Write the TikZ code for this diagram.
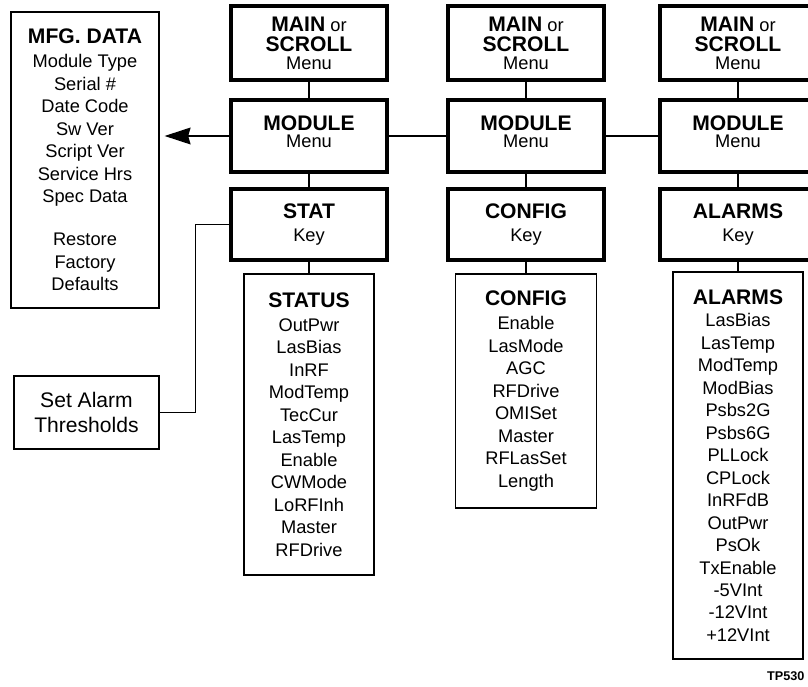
\documentclass[tikz,border=0pt]{standalone}
\usepackage{fontspec}
\setmainfont{Liberation Sans}
\usetikzlibrary{arrows.meta,positioning}
\newcommand{\boxhead}[1]{{\fontsize{15}{16}\selectfont\bfseries #1}}

\begin{document}
\begin{tikzpicture}[
    font=\fontsize{13}{16}\selectfont,
    menubox/.style={rectangle, draw=black, line width=2.2pt, minimum width=3.9cm, inner sep=0pt, align=center, fill=white},
    listbox/.style={rectangle, draw=black, line width=1.1pt, inner sep=0pt, align=center, fill=white},
    link/.style={line width=1.1pt},
    pointer/.style={line width=1.1pt, -{Stealth[length=6.5mm,width=4.2mm,inset=0.6mm]}, shorten >=0.12cm}
]
\useasboundingbox (0,0) rectangle (20.2,17.175);
\clip (0,0) rectangle (20.2,17.175);

% left column
\node[listbox, minimum width=3.7cm, minimum height=7.4cm] (Mfg) at (2.125,13.175) {\boxhead{MFG. DATA}\\[1pt]
Module Type\\Serial \#\\Date Code\\Sw Ver\\Script Ver\\Service Hrs\\Spec Data\\[14.5pt]
Restore\\Factory\\Defaults};
\node[listbox, minimum width=3.625cm, minimum height=1.825cm, font=\fontsize{15}{18}\selectfont] (Alarm) at (2.1625,6.8625) {Set Alarm\\Thresholds};

% STAT column
\node[menubox, minimum height=1.85cm] (Main1) at (7.725,16.1) {\boxhead{MAIN} or\\[-1.8pt]\boxhead{SCROLL}\\[-3pt]Menu};
\node[menubox, minimum height=1.8cm, text depth=0.22cm] (Module1) at (7.725,13.775) {\boxhead{MODULE}\\[-3.5pt]Menu};
\node[menubox, minimum height=1.775cm] (Stat) at (7.725,11.5625) {\boxhead{STAT}\\[0.5pt]Key};
\node[listbox, minimum width=3.25cm, minimum height=7.525cm] (Status) at (7.725,6.5625) {\boxhead{STATUS}\\[1pt]
OutPwr\\LasBias\\InRF\\ModTemp\\TecCur\\LasTemp\\Enable\\CWMode\\LoRFInh\\Master\\RFDrive};

% CONFIG column
\node[menubox, minimum height=1.85cm] (Main2) at (13.15,16.1) {\boxhead{MAIN} or\\[-1.8pt]\boxhead{SCROLL}\\[-3pt]Menu};
\node[menubox, minimum height=1.8cm, text depth=0.22cm] (Module2) at (13.15,13.775) {\boxhead{MODULE}\\[-3.5pt]Menu};
\node[menubox, minimum height=1.775cm] (ConfigKey) at (13.15,11.5625) {\boxhead{CONFIG}\\[0.5pt]Key};
\node[listbox, minimum width=3.525cm, minimum height=5.85cm] (Config) at (13.15,7.4) {\boxhead{CONFIG}\\[1pt]
Enable\\LasMode\\AGC\\RFDrive\\OMISet\\Master\\RFLasSet\\Length};

% ALARMS column
\node[menubox, minimum height=1.85cm] (Main3) at (18.45,16.1) {\boxhead{MAIN} or\\[-1.8pt]\boxhead{SCROLL}\\[-3pt]Menu};
\node[menubox, minimum height=1.8cm, text depth=0.22cm] (Module3) at (18.45,13.775) {\boxhead{MODULE}\\[-3.5pt]Menu};
\node[menubox, minimum height=1.775cm] (AlarmsKey) at (18.45,11.5625) {\boxhead{ALARMS}\\[0.5pt]Key};
\node[listbox, minimum width=3.25cm, minimum height=9.675cm] (Alarms) at (18.45,5.5375) {\boxhead{ALARMS}\\
LasBias\\LasTemp\\ModTemp\\ModBias\\Psbs2G\\Psbs6G\\PLLock\\CPLock\\InRFdB\\OutPwr\\PsOk\\TxEnable\\-5VInt\\-12VInt\\+12VInt};

\node[font=\fontsize{9}{10}\selectfont\bfseries, anchor=east, inner sep=0pt] (TpRef) at (20.12,0.28) {TP530};

\draw[link] (Main1) -- (Module1);
\draw[link] (Module1) -- (Stat);
\draw[link] (Stat) -- (Status);
\draw[link] (Main2) -- (Module2);
\draw[link] (Module2) -- (ConfigKey);
\draw[link] (ConfigKey) -- (Config);
\draw[link] (Main3) -- (Module3);
\draw[link] (Module3) -- (AlarmsKey);
\draw[link] (AlarmsKey) -- (Alarms);
\draw[link] (Module1) -- (Module2);
\draw[link] (Module2) -- (Module3);
\draw[pointer] (Module1.west) -- (Module1.west -| Mfg.east);
\draw[link] (Alarm.east) -| ([xshift=-0.85cm]Stat.west) -- (Stat.west);
\end{tikzpicture}
\end{document}
